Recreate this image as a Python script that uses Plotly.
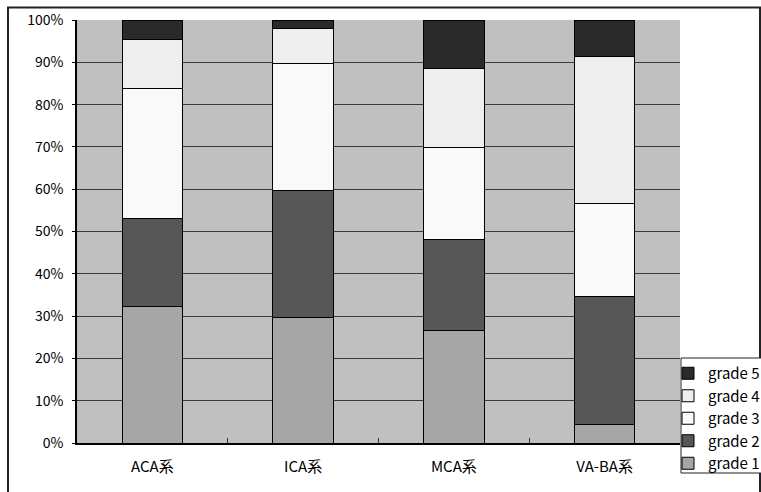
import plotly.graph_objects as go

categories = ["ACA系", "ICA系", "MCA系", "VA-BA系"]
grade1 = [32.2, 29.7, 26.7, 4.3]
grade2 = [20.9, 30.1, 21.4, 30.3]
grade3 = [30.8, 30.0, 21.8, 22.0]
grade4 = [11.4, 8.3, 18.7, 34.7]
grade5 = [4.7, 1.9, 11.4, 8.7]
series_names = ["grade 1", "grade 2", "grade 3", "grade 4", "grade 5"]
series_values = [grade1, grade2, grade3, grade4, grade5]
series_colors = ["#a6a6a6", "#575757", "#f9f9f9", "#eeeeee", "#2a2a2a"]
y_ticks = [0, 10, 20, 30, 40, 50, 60, 70, 80, 90, 100]
y_tick_text = [f"{v}%" for v in y_ticks]

FONT = "Noto Sans CJK JP"

fig = go.Figure()
for name, vals, col in zip(series_names, series_values, series_colors):
    fig.add_trace(go.Bar(
        x=categories, y=vals, name=name,
        marker=dict(color=col, line=dict(color="#000000", width=1)),
        width=0.4,
    ))

W, H = 761, 492
ml, mr, mt, mb = 77, 81, 20, 49
pw, ph = W - ml - mr, H - mt - mb

def px_x(x):
    return (x - ml) / pw

def px_y(y):
    return (H - mb - y) / ph

frame = dict(color="#222222", width=2)

fig.update_layout(
    width=W, height=H,
    margin=dict(l=ml, r=mr, t=mt, b=mb, autoexpand=False),
    barmode="stack",
    paper_bgcolor="white",
    plot_bgcolor="#c0c0c0",
    font=dict(family=FONT, size=14, color="black"),
    showlegend=True,
    legend=dict(
        traceorder="reversed",
        x=px_x(668), xanchor="left",
        y=px_y(357), yanchor="top",
        bgcolor="rgba(0,0,0,0)",
        borderwidth=0,
        font=dict(family=FONT, size=15, color="black"),
    ),
    xaxis=dict(
        showgrid=False,
        showline=True, linecolor="black", linewidth=2,
        ticks="inside", ticklen=5, tickcolor="#333333", tickwidth=1,
        tickson="boundaries",
        ticklabelstandoff=9,
        tickfont=dict(family=FONT, size=15),
    ),
    yaxis=dict(
        range=[0, 100],
        tickvals=y_ticks, ticktext=y_tick_text,
        showgrid=True, gridcolor="#3a3a3a", gridwidth=1,
        zeroline=False,
        showline=True, linecolor="black", linewidth=1.5,
        ticks="outside", ticklen=3, tickcolor="black",
        ticklabelstandoff=6,
        tickfont=dict(family=FONT, size=14),
    ),
    shapes=[
        dict(type="rect", xref="paper", yref="paper",
             x0=px_x(8), x1=px_x(760), y0=px_y(505), y1=px_y(7.5),
             line=frame, fillcolor="rgba(0,0,0,0)", layer="below"),
        dict(type="rect", xref="paper", yref="paper",
             x0=px_x(681), x1=px_x(775), y0=px_y(473), y1=px_y(358),
             line=dict(color="#222222", width=1), fillcolor="white",
             layer="above"),
    ],
)

fig.write_html(
    "out.html",
    config={"displayModeBar": False},
    post_script="document.body.style.margin='0';document.body.style.overflow='hidden';",
)
